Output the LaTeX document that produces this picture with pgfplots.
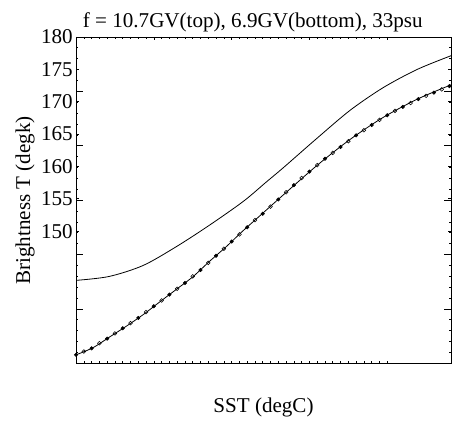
\documentclass[border=0pt]{standalone}
\usepackage{fontspec}
\setmainfont{Liberation Serif}
\usepackage{pgfplots}
\pgfplotsset{compat=1.18}
\begin{document}
\begin{tikzpicture}
\begin{axis}[
  scale only axis,
  width=281pt, height=245pt,
  xmin=0, xmax=24.1,
  ymin=129.5, ymax=180,
  font=\fontsize{15.8}{18}\selectfont,
  /pgf/number format/assume math mode=true,
  title={f = 10.7GV(top), 6.9GV(bottom), 33psu},
  title style={yshift=-6pt, xshift=-8pt},
  xlabel={SST (degC)},
  xlabel style={at={(axis description cs:0.5,0)}, anchor=center, yshift=-33pt},
  ylabel={Brightness T (degk)},
  ylabel style={at={(axis description cs:-0.136,0.5)}, anchor=center},
  xtick={0,5,10,15,20},
  xticklabels={},
  minor x tick num=9,
  ytick={150,155,160,165,170,175,180},
  yticklabel style={xshift=1pt},
  minor ytick={129.6,131.28,132.96,134.64,136.32,138,139.68,141.36,143.04,144.72,146.4,148.08,149.76,151.44,153.12,154.8,156.48,158.16,159.84,161.52,163.2,164.88,166.56,168.24,169.92,171.6,173.28,174.96,176.64,178.32},
  extra y ticks={138,146.4,154.8,163.2,171.6},
  extra y tick labels={},
  extra y tick style={major tick length=5pt},
  major tick length=2.5pt,
  minor tick length=1.8pt,
  tick style={black, line width=0.5pt},
  axis line style={line width=0.6pt},
  tick align=inside,
]
\coordinate (ne) at (rel axis cs:1,1);
\coordinate (sw) at (rel axis cs:0,0);
% top curve (10.7 GHz)
\addplot[black, line width=0.6pt, smooth] coordinates {
  (0,142.4) (2.12,143.0) (4.31,144.7) (6.44,147.6) (8.56,150.9)
  (10.75,154.6) (12.23,157.6) (13.32,159.8) (15.51,164.4) (17.63,168.7)
  (19.76,172.2) (21.94,175.0) (24.1,177.1)};
% bottom curve (6.9 GHz)
\addplot[black, line width=0.6pt, smooth] coordinates {
  (0,130.9) (1.09,132.0) (2.12,133.6) (3.22,135.3) (4.31,137.1)
  (5.34,139.0) (6.44,141.0) (7.53,143.0) (8.56,145.3) (9.65,147.6)
  (10.75,150.1) (11.78,152.3) (13.32,155.6) (15.51,160.2) (17.63,164.2)
  (19.76,167.6) (21.94,170.4) (24.1,172.6)};
% markers on bottom curve
\addplot[only marks, mark=*, mark size=1.3pt, black] coordinates {
  (0,130.9) (1,131.9) (2,133.4) (3,135.0) (4,136.6) (5,138.4) (6,140.2)
  (7,142.0) (8,144.0) (9,146.2) (10,148.4) (11,150.6) (12,152.7) (13,154.9)
  (14,157.1) (15,159.2) (16,161.2) (17,163.0) (18,164.8) (19,166.4)
  (20,167.9) (21,169.2) (22,170.4) (23,171.4) (24,172.4)};
\addplot[only marks, mark=o, mark size=1.4pt, black, line width=0.4pt] coordinates {
  (0.5,131.4) (1.5,132.7) (2.5,134.2) (3.5,135.8) (4.5,137.5) (5.5,139.3)
  (6.5,141.1) (7.5,143.0) (8.5,145.1) (9.5,147.3) (10.5,149.5) (11.5,151.7)
  (12.5,153.8) (13.5,156.0) (14.5,158.2) (15.5,160.2) (16.5,162.1)
  (17.5,163.9) (18.5,165.6) (19.5,167.2) (20.5,168.6) (21.5,169.8)
  (22.5,170.9) (23.5,171.9)};
\end{axis}
\path ([xshift=3pt, yshift=27.7pt]ne) ([xshift=-57pt, yshift=-40.4pt]sw);
\end{tikzpicture}
\end{document}
